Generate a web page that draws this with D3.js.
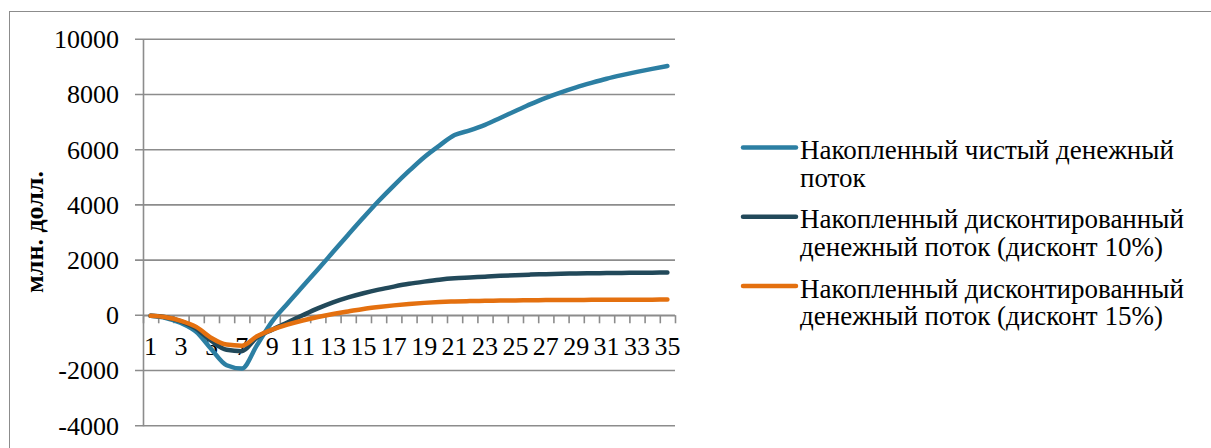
<!DOCTYPE html>
<html>
<head>
<meta charset="utf-8">
<script src="https://cdn.jsdelivr.net/npm/d3@7"></script>
<style>
  html, body { margin: 0; padding: 0; background: #fff; }
  svg { display: block; }
  svg text { font-family: "Liberation Serif", "Times New Roman", serif !important; fill: #000; }
</style>
</head>
<body>
<svg id="chart" width="1211" height="448"></svg>
<script>
// Years of the project horizon
const periods = d3.range(1, 36);

// Cumulative net cash flow, mln USD
const netFlow = [-20, -100, -280, -600, -1230, -1810, -1930, -1080, -220, 420,
  1040, 1660, 2290, 2920, 3540, 4140, 4700, 5230, 5730, 6150,
  6530, 6700, 6900, 7150, 7400, 7650, 7880, 8080, 8260, 8420,
  8570, 8700, 8820, 8930, 9030];

// Cumulative discounted cash flow, 10% discount rate
const disc10 = [-20, -70, -220, -480, -930, -1250, -1300, -800, -520, -260,
  0, 250, 470, 650, 800, 930, 1040, 1140, 1220, 1290,
  1340, 1370, 1400, 1430, 1455, 1475, 1490, 1505, 1515, 1525,
  1530, 1535, 1540, 1545, 1550];

// Cumulative discounted cash flow, 15% discount rate
const disc15 = [-20, -70, -200, -420, -820, -1060, -1100, -760, -520, -340,
  -190, -60, 50, 140, 230, 300, 360, 410, 450, 480,
  500, 515, 525, 533, 540, 545, 550, 553, 556, 559,
  561, 563, 565, 567, 569];

const seriesNames = [
  ["Накопленный чистый денежный", "поток"],
  ["Накопленный дисконтированный", "денежный поток (дисконт 10%)"],
  ["Накопленный дисконтированный", "денежный поток (дисконт 15%)"]
];
const seriesColors = ["#2c7fa3", "#22495a", "#e4700f"];
const yTicks = [-4000, -2000, 0, 2000, 4000, 6000, 8000, 10000];
const xLabels = periods.filter(p => p % 2 === 1);
const yTitle = "млн. долл.";

const svg = d3.select("#chart");

// outer chart frame
svg.append("rect")
  .attr("x", 9.5).attr("y", 11.5)
  .attr("width", 1300).attr("height", 600)
  .attr("fill", "none").attr("stroke", "#8c8c8c").attr("stroke-width", 1);

const plot = { left: 143, right: 675, top: 39.3, bottom: 425.7 };

const y = d3.scaleLinear().domain([-4000, 10000]).range([plot.bottom, plot.top]);
const xBand = d3.scaleBand().domain(periods).range([plot.left, plot.right]).padding(0);
const xEdge = d3.scaleLinear().domain([0.5, 35.5]).range([plot.left, plot.right]);
const xc = d => xBand(d) + xBand.bandwidth() / 2;

// horizontal gridlines
svg.append("g").selectAll("line").data(yTicks).join("line")
  .attr("x1", plot.left - 8).attr("x2", plot.right)
  .attr("y1", d => y(d)).attr("y2", d => y(d))
  .attr("stroke", "#8c8c8c").attr("stroke-width", 1.6);

// vertical value axis
const yAxis = svg.append("g")
  .attr("transform", `translate(${plot.left},0)`)
  .call(d3.axisLeft(y).tickValues(yTicks).tickFormat(d => String(d)).tickSize(0).tickPadding(24));
yAxis.attr("font-family", null).attr("font-size", null);
yAxis.select(".domain").attr("stroke", "#8c8c8c").attr("stroke-width", 1.6);
yAxis.selectAll("text")
  .style("font-size", "26px").attr("fill", "#000");

// horizontal category axis at zero with ticks between categories
const xAxis = svg.append("g")
  .attr("transform", `translate(0,${y(0)})`)
  .call(d3.axisBottom(xEdge).tickValues(d3.range(0.5, 36, 1)).tickFormat("").tickSizeInner(8).tickSizeOuter(0));
xAxis.select(".domain").attr("stroke", "#8c8c8c").attr("stroke-width", 1.6);
xAxis.selectAll(".tick line").attr("stroke", "#8c8c8c").attr("stroke-width", 1.6);

svg.append("g").selectAll("text").data(xLabels).join("text")
  .attr("x", d => xc(d)).attr("y", y(0) + 40)
  .attr("text-anchor", "middle")
  .style("font-size", "26px")
  .text(d => d);

// axis title
svg.append("text")
  .attr("transform", `translate(43,232) rotate(-90)`)
  .attr("text-anchor", "middle")
  .style("font-size", "26px").style("font-weight", "bold")
  .text(yTitle);

// series lines
const line = d3.line()
  .x((d, i) => xc(periods[i]))
  .y(d => y(d))
  .curve(d3.curveMonotoneX);

[netFlow, disc10, disc15].forEach((vals, k) => {
  svg.append("path")
    .datum(vals)
    .attr("d", line)
    .attr("fill", "none")
    .attr("stroke", seriesColors[k])
    .attr("stroke-width", 4.5)
    .attr("stroke-linecap", "round")
    .attr("stroke-linejoin", "round");
});

// legend
const legendRows = [147.5, 216.8, 286];
const legend = svg.append("g");
seriesNames.forEach((lines, k) => {
  const yy = legendRows[k];
  legend.append("line")
    .attr("x1", 743).attr("x2", 796)
    .attr("y1", yy).attr("y2", yy)
    .attr("stroke", seriesColors[k]).attr("stroke-width", 4.5)
    .attr("stroke-linecap", "round");
  lines.forEach((t, j) => {
    legend.append("text")
      .attr("x", 800).attr("y", yy + 11.5 + j * 27.5)
      .style("font-size", "27px")
      .text(t);
  });
});
</script>
</body>
</html>
